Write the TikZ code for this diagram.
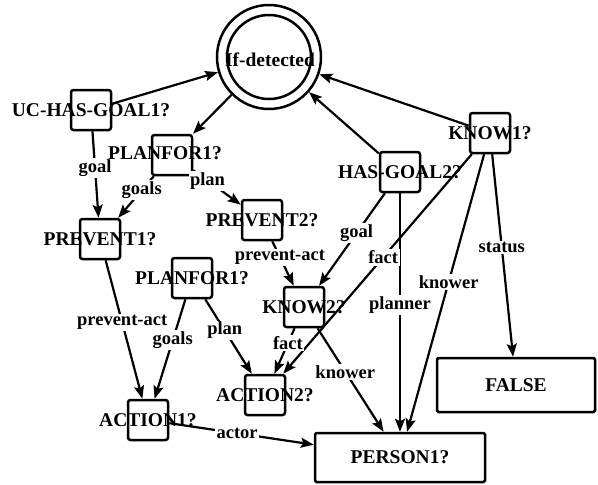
\documentclass[tikz,border=0pt]{standalone}
\usepackage{fontspec}
\setmainfont{Liberation Serif}
\usetikzlibrary{arrows.meta}
\begin{document}
\begin{tikzpicture}[x=1pt,y=-1pt,
  box/.style={draw, line width=2.5pt, rounded corners=2.5pt, minimum width=40pt, minimum height=40pt, inner sep=0pt},
  bigbox/.style={draw, line width=2.5pt, rounded corners=1.5pt, inner sep=0pt, font=\bfseries\fontsize{19.5}{21}\selectfont},
  txt/.style={font=\bfseries\fontsize{19.5}{21}\selectfont, inner sep=0pt},
  lbl/.style={font=\bfseries\fontsize{18.5}{20}\selectfont, fill=white, inner sep=1.5pt},
  edge/.style={line width=2.2pt, -{Stealth[length=13pt,width=10pt,inset=2.5pt]}}
]
\useasboundingbox (0,0) rectangle (598,485);
% double circle
\node[circle, draw, line width=2.5pt, minimum size=104pt, inner sep=0pt] (det) at (269,57) {};
\draw[line width=2.5pt] (det.center) circle[radius=42pt];
% boxes
\node[box] (uc)  at (91,110) {};
\node[box] (pf1) at (172,155) {};
\node[box] (pv1) at (100,239) {};
\node[box] (pv2) at (262,220) {};
\node[box] (pf2) at (192,278) {};
\node[box] (kn2) at (304,307) {};
\node[box] (ac2) at (265,395) {};
\node[box] (ac1) at (148,420) {};
\node[box] (hg2) at (400,172) {};
\node[box] (kn1) at (490,133) {};
\node[bigbox, minimum width=158pt, minimum height=54pt] (fls) at (516,385) {FALSE};
\node[bigbox, minimum width=170pt, minimum height=49pt] (per) at (400,457.5) {PERSON1?};
% edges
\draw[edge] (uc) -- (det);
\draw[edge] (det) -- (pf1);
\draw[edge] (hg2) -- (det);
\draw[edge] (kn1) -- (det);
\draw[edge] (uc) -- node[lbl,pos=.43]{goal} (pv1);
\draw[edge] (pf1) -- node[lbl,pos=.34]{goals} (pv1);
\draw[edge] (pf1) -- node[lbl,pos=.3]{plan} (pv2);
\draw[edge] (pv1) -- node[lbl,pos=.45]{prevent-act} (ac1);
\draw[edge] (pf2) -- node[lbl,pos=.41]{goals} (ac1);
\draw[edge] (pf2) -- node[lbl,pos=.42]{plan} (ac2);
\draw[edge] (pv2) -- node[lbl,pos=.36]{prevent-act} (kn2);
\draw[edge] (hg2) -- node[lbl,pos=.43]{goal} (kn2);
\draw[edge] (hg2) -- node[lbl,pos=.47]{planner} (per);
\draw[edge] (kn1) -- node[lbl,pos=.47]{fact} (ac2);
\draw[edge] (kn2) -- node[lbl,pos=.33]{fact} (ac2);
\draw[edge] (kn2) -- node[lbl,pos=.42]{knower} (per);
\draw[edge] (kn1) -- node[lbl,pos=.46]{knower} (per);
\draw[edge] (kn1) -- node[lbl,pos=.46]{status} (fls);
\draw[edge] (ac1) -- node[lbl,pos=.47]{actor} (per);
% node texts
\node[txt] (tdet) at (270,60) {If-detected};
\node[txt] (tuc)  at (uc)  {UC-HAS-GOAL1?};
\node[txt] (tpf1) at (165,153) {PLANFOR1?};
\node[txt] (tpv1) at (pv1) {PREVENT1?};
\node[txt] (tpv2) at (pv2) {PREVENT2?};
\node[txt] (tpf2) at (pf2) {PLANFOR1?};
\node[txt] (tkn2) at (kn2) {KNOW2?};
\node[txt] (tac2) at (ac2) {ACTION2?};
\node[txt] (tac1) at (ac1) {ACTION1?};
\node[txt] (thg2) at (hg2) {HAS-GOAL2?};
\node[txt] (tkn1) at (kn1) {KNOW1?};
\end{tikzpicture}
\end{document}
